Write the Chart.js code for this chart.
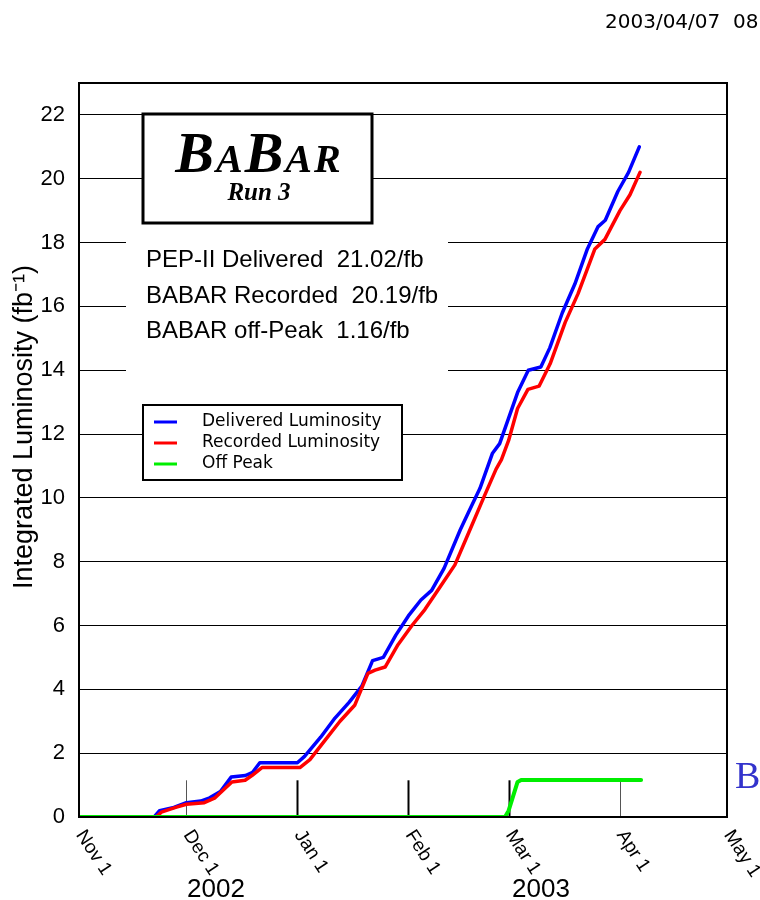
<!DOCTYPE html>
<html>
<head>
<meta charset="utf-8">
<script src="https://cdn.jsdelivr.net/npm/chart.js@4"></script>
<style>
  html, body { margin: 0; padding: 0; background: #fff; }
  #wrap { width: 760px; height: 900px; }
</style>
</head>
<body>
<div id="wrap"><canvas id="lumi" width="760" height="900"></canvas></div>
<script>
// axe x : jours depuis le 1er novembre 2002
const monthLabels = ['Nov 1', 'Dec 1', 'Jan 1', 'Feb 1', 'Mar 1', 'Apr 1', 'May 1'];
const monthDays = [0, 30, 61, 92, 120, 151, 181];
const yearLabels = ['2002', '2003'];
const yTicks = [0, 2, 4, 6, 8, 10, 12, 14, 16, 18, 20, 22];

const summaryLines = ['PEP-II Delivered  21.02/fb', 'BABAR Recorded  20.19/fb', 'BABAR off-Peak  1.16/fb'];

// luminosité livrée (fb^-1)
const deliveredDays = [0, 21, 22.5, 26.5, 30, 34, 36.5, 39.5, 42.5, 46.5, 48.5, 50.5, 61, 63, 67.5, 71.5, 75.5, 79, 82, 85, 88.5, 92, 95.5, 98.5, 102, 106.5, 109, 112, 115.5, 117.5, 120, 122.5, 125.5, 129, 131.5, 135, 138.5, 142, 145, 147, 150.5, 153.5, 156.5];
const deliveredLumi = [0, 0, 0.2, 0.3, 0.45, 0.5, 0.6, 0.8, 1.25, 1.3, 1.4, 1.7, 1.7, 1.9, 2.5, 3.1, 3.6, 4.1, 4.9, 5.0, 5.7, 6.3, 6.8, 7.1, 7.8, 9.0, 9.6, 10.3, 11.4, 11.7, 12.5, 13.3, 14.0, 14.1, 14.7, 15.8, 16.7, 17.8, 18.5, 18.7, 19.6, 20.2, 21.0];

// luminosité enregistrée
const recordedDays = [0, 21.5, 23, 27, 30, 35, 38, 42.7, 46.4, 48.3, 51.1, 61.7, 64.5, 68.7, 72.9, 77, 80.7, 82.7, 85.5, 89.1, 93, 96.6, 100.8, 105, 109.2, 113, 116.5, 118, 120, 122.5, 125.4, 128.5, 131.6, 135.8, 139.4, 144.1, 146.9, 151.1, 153.9, 156.7];
const recordedLumi = [0, 0, 0.15, 0.3, 0.4, 0.45, 0.6, 1.1, 1.15, 1.3, 1.55, 1.55, 1.8, 2.4, 3.0, 3.5, 4.5, 4.6, 4.7, 5.4, 6.0, 6.5, 7.2, 7.9, 9.0, 10.0, 10.9, 11.2, 11.8, 12.8, 13.4, 13.5, 14.2, 15.5, 16.4, 17.8, 18.1, 19.0, 19.5, 20.2];

// off-peak
const offPeakDays = [0, 119, 120, 122.5, 123.5, 157];
const offPeakLumi = [0, 0, 0.2, 1.1, 1.16, 1.16];

const toPoints = (xs, ys) => xs.map((x, i) => ({ x: x, y: ys[i] }));

// petites marques de mois + cadre + textes
const decorPlugin = {
  id: 'decor',
  beforeDatasetsDraw(chart) {
    const ctx = chart.ctx;
    const xs = chart.scales.x, ys = chart.scales.y;
    ctx.save();
    monthDays.forEach((d, i) => {
      if (i === 0 || i === monthDays.length - 1) return;
      const px = Math.round(xs.getPixelForValue(d)) + 0.5;
      const thin = (i === 1 || i === 5);
      ctx.strokeStyle = thin ? '#555' : '#000';
      ctx.lineWidth = thin ? 1 : 2;
      ctx.beginPath();
      ctx.moveTo(px, ys.getPixelForValue(0));
      ctx.lineTo(px, ys.getPixelForValue(1.15));
      ctx.stroke();
    });
    ctx.restore();
  },
  afterDraw(chart) {
    const ctx = chart.ctx;
    const area = chart.chartArea;
    const xs = chart.scales.x;
    ctx.save();

    // cadre
    ctx.strokeStyle = '#000';
    ctx.lineWidth = 2;
    ctx.strokeRect(area.left, area.top, area.right - area.left, area.bottom - area.top);

    // boite BABAR
    ctx.fillStyle = '#fff';
    ctx.fillRect(143, 114, 229, 109);
    ctx.lineWidth = 3;
    ctx.strokeRect(143, 114, 229, 109);
    ctx.fillStyle = '#000';
    ctx.textBaseline = 'alphabetic';
    const parts = [['B', 58], ['A', 40], ['B', 58], ['A', 40], ['R', 40]];
    let w = 0;
    parts.forEach(p => { ctx.font = 'italic bold ' + p[1] + 'px "Liberation Serif"'; w += ctx.measureText(p[0]).width + 2; });
    let cx = 259 - w / 2;
    parts.forEach(p => {
      ctx.font = 'italic bold ' + p[1] + 'px "Liberation Serif"';
      ctx.fillText(p[0], cx, 172);
      cx += ctx.measureText(p[0]).width + 2;
    });
    ctx.font = 'italic bold 25px "Liberation Serif"';
    ctx.textAlign = 'center';
    ctx.fillText('Run 3', 259, 200);

    // resume
    ctx.fillStyle = '#fff';
    ctx.fillRect(126, 230, 322, 143);
    ctx.fillStyle = '#000';
    ctx.textAlign = 'left';
    ctx.font = '24px "Liberation Sans"';
    summaryLines.forEach((t, i) => ctx.fillText(t, 146, 267 + i * 35.5));

    // legende
    ctx.fillStyle = '#fff';
    ctx.fillRect(143, 405, 259, 75);
    ctx.strokeStyle = '#000';
    ctx.lineWidth = 2;
    ctx.strokeRect(143, 405, 259, 75);
    ctx.font = '17px "DejaVu Sans"';
    ctx.textBaseline = 'middle';
    chart.data.datasets.slice().reverse().forEach((ds, i) => {
      const ly = 422 + i * 21;
      ctx.strokeStyle = ds.borderColor;
      ctx.lineWidth = 3;
      ctx.beginPath();
      ctx.moveTo(154, ly);
      ctx.lineTo(177, ly);
      ctx.stroke();
      ctx.fillStyle = '#000';
      ctx.fillText(ds.label, 202, ly);
    });

    // etiquettes des mois (inclinees)
    ctx.font = '19px "Liberation Sans"';
    ctx.textAlign = 'left';
    ctx.textBaseline = 'middle';
    ctx.fillStyle = '#000';
    monthDays.forEach((d, i) => {
      const px = xs.getPixelForValue(d);
      ctx.save();
      ctx.translate(px + 1, area.bottom + 15);
      ctx.rotate(57 * Math.PI / 180);
      ctx.fillText(monthLabels[i], 0, 0);
      ctx.restore();
    });

    // annees
    ctx.font = '26px "Liberation Sans"';
    ctx.textAlign = 'center';
    ctx.textBaseline = 'alphabetic';
    ctx.fillText(yearLabels[0], 216, 897);
    ctx.fillText(yearLabels[1], 541, 897);

    // titre axe y
    ctx.save();
    ctx.translate(25, 427);
    ctx.rotate(-Math.PI / 2);
    ctx.textBaseline = 'middle';
    ctx.font = '27px "Liberation Sans"';
    ctx.fillText('Integrated Luminosity (fb\u207B\u00B9)', 0, 0);
    ctx.restore();

    // horodatage
    ctx.textAlign = 'left';
    ctx.font = '20px "DejaVu Sans"';
    ctx.fillText('2003/04/07  08', 605, 28);

    // B bleu
    ctx.fillStyle = '#3333cc';
    ctx.font = '38px "Liberation Serif"';
    ctx.fillText('B', 735, 788);

    ctx.restore();
  }
};

const ctx = document.getElementById('lumi').getContext('2d');
const lumiChart = new Chart(ctx, {
  type: 'line',
  data: {
    datasets: [
      { label: 'Off Peak', data: toPoints(offPeakDays, offPeakLumi), borderColor: '#00ee00', borderWidth: 4 },
      { label: 'Recorded Luminosity', data: toPoints(recordedDays, recordedLumi), borderColor: '#ff0000', borderWidth: 3.5 },
      { label: 'Delivered Luminosity', data: toPoints(deliveredDays, deliveredLumi), borderColor: '#0000ff', borderWidth: 3.5 },
    ],
  },
  options: {
    responsive: false,
    animation: false,
    devicePixelRatio: 1,
    layout: { padding: { top: 83, right: 33, left: 0, bottom: 0 } },
    elements: {
      point: { radius: 0 },
      line: { tension: 0, borderJoinStyle: 'round', borderCapStyle: 'round' },
    },
    plugins: { legend: { display: false }, tooltip: { enabled: false } },
    scales: {
      x: {
        type: 'linear',
        min: 0,
        max: 181,
        afterBuildTicks: s => { s.ticks = monthDays.map(v => ({ value: v })); },
        afterFit: s => { s.height = 83; },
        ticks: { display: false },
        grid: { display: false },
        border: { display: false },
      },
      y: {
        min: 0,
        max: 23,
        afterBuildTicks: s => { s.ticks = yTicks.map(v => ({ value: v })); },
        afterFit: s => { s.width = 79; },
        ticks: { color: '#000', padding: 14, font: { family: 'Liberation Sans', size: 22 } },
        grid: { color: '#000', lineWidth: 1, drawTicks: false },
        border: { display: false },
      },
    },
  },
  plugins: [decorPlugin],
});
</script>
</body>
</html>
